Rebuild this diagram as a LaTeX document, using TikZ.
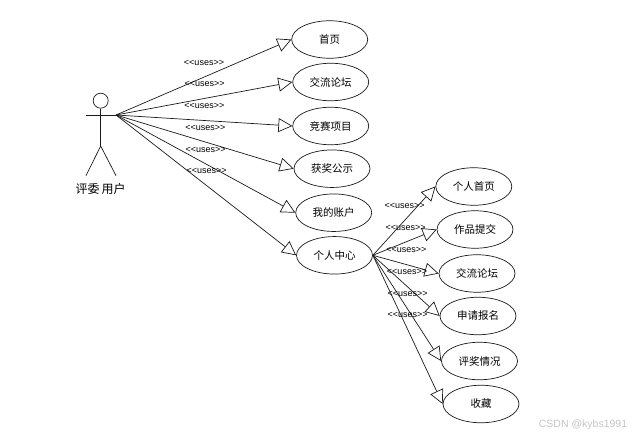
\documentclass[tikz,border=0pt]{standalone}
\usepackage{fontspec}
\usepackage{xcolor}
\usepackage{tikz}
\usetikzlibrary{shapes.geometric, arrows.meta, positioning}
\newfontfamily\cjk{Noto Sans CJK SC}
\setmainfont{Liberation Sans}
\definecolor{LineDark}{HTML}{1A1A1A}
\definecolor{MarkGray}{HTML}{C4C4C4}
\newcommand{\usestext}{<{}<uses>{}>}
\tikzset{
  usecase/.style={draw=LineDark, ellipse, line width=0.7pt, minimum width=76pt, minimum height=37.5pt, inner sep=0pt, font=\cjk\fontsize{10.5}{12}\selectfont},
  usesarrow/.style={draw=LineDark, line width=0.7pt, -{Triangle[open, length=14pt, width=14pt]}},
  useslabel/.style={inner sep=0pt, font=\fontsize{9}{10}\selectfont}
}
\begin{document}
\begin{tikzpicture}[x=1pt, y=-1pt]
      \useasboundingbox (0,0) rectangle (637,436);
      % actor
      \node[draw=LineDark, circle, line width=0.7pt, minimum size=15pt, inner sep=0pt] (actorHead) at (100.7,100.7) {};
      \coordinate (actorHip) at (100.7,146);
      \coordinate (actorArmL) at (85.7,115);
      \coordinate (actorArmR) at (116,115);
      \coordinate (actorFootL) at (86,175.7);
      \coordinate (actorFootR) at (116,175.7);
      \draw[LineDark, line width=0.7pt] (actorHead.south) -- (actorHip);
      \draw[LineDark, line width=0.7pt] (actorArmL) -- (actorArmR);
      \draw[LineDark, line width=0.7pt] (actorFootL) -- (actorHip) -- (actorFootR);
      \node[font=\cjk\fontsize{12}{14}\selectfont, inner sep=0pt] (actorName) at (100.7,189) {评委\hspace{2pt}用户};
      % first level use cases
      \node[usecase] (homePage) at (329.7,39.5) {首页};
      \node[usecase] (forumMain) at (330.7,82) {交流论坛};
      \node[usecase] (contest) at (330.7,126) {竞赛项目};
      \node[usecase] (awards) at (332,168.7) {获奖公示};
      \node[usecase] (account) at (333.7,212.7) {我的账户};
      \node[usecase] (center) at (334.5,255.3) {个人中心};
      % second level use cases
      \node[usecase] (myHome) at (473.8,186.5) {个人首页};
      \node[usecase] (submitWork) at (475,229.5) {作品提交};
      \node[usecase] (forumSub) at (477,273.5) {交流论坛};
      \node[usecase] (signUp) at (478,316) {申请报名};
      \node[usecase] (reviewInfo) at (479.5,361) {评奖情况};
      \node[usecase] (favorites) at (481,404) {收藏};
      % connectors
      \draw[usesarrow] (actorArmR) -- (homePage.west);
      \draw[usesarrow] (actorArmR) -- (forumMain.west);
      \draw[usesarrow] (actorArmR) -- (contest.west);
      \draw[usesarrow] (actorArmR) -- (awards.west);
      \draw[usesarrow] (actorArmR) -- (account.west);
      \draw[usesarrow] (actorArmR) -- (center.west);
      \draw[usesarrow] (center.east) -- (myHome.west);
      \draw[usesarrow] (center.east) -- (submitWork.west);
      \draw[usesarrow] (center.east) -- (forumSub.west);
      \draw[usesarrow] (center.east) -- (signUp.west);
      \draw[usesarrow] (center.east) -- (reviewInfo.west);
      \draw[usesarrow] (center.east) -- (favorites.west);
      % labels
      \node[useslabel] (usesHome) at (204,63.3) {\usestext};
      \node[useslabel] (usesForum) at (204.7,84.3) {\usestext};
      \node[useslabel] (usesContest) at (204.3,106.3) {\usestext};
      \node[useslabel] (usesAwards) at (205.3,128) {\usestext};
      \node[useslabel] (usesAccount) at (205.7,150.3) {\usestext};
      \node[useslabel] (usesCenter) at (206.7,171.3) {\usestext};
      \node[useslabel] (usesMyHome) at (404.7,206.3) {\usestext};
      \node[useslabel] (usesSubmit) at (405.7,228.3) {\usestext};
      \node[useslabel] (usesForumSub) at (406.3,250.3) {\usestext};
      \node[useslabel] (usesSignUp) at (407,271.7) {\usestext};
      \node[useslabel] (usesReview) at (407.7,294.3) {\usestext};
      \node[useslabel] (usesFavorites) at (407.7,315.3) {\usestext};
      \node[font=\fontsize{10.5}{12}\selectfont, color=MarkGray, inner sep=0pt] (csdnMark) at (583,425) {CSDN @kybs1991};
\end{tikzpicture}
\end{document}
